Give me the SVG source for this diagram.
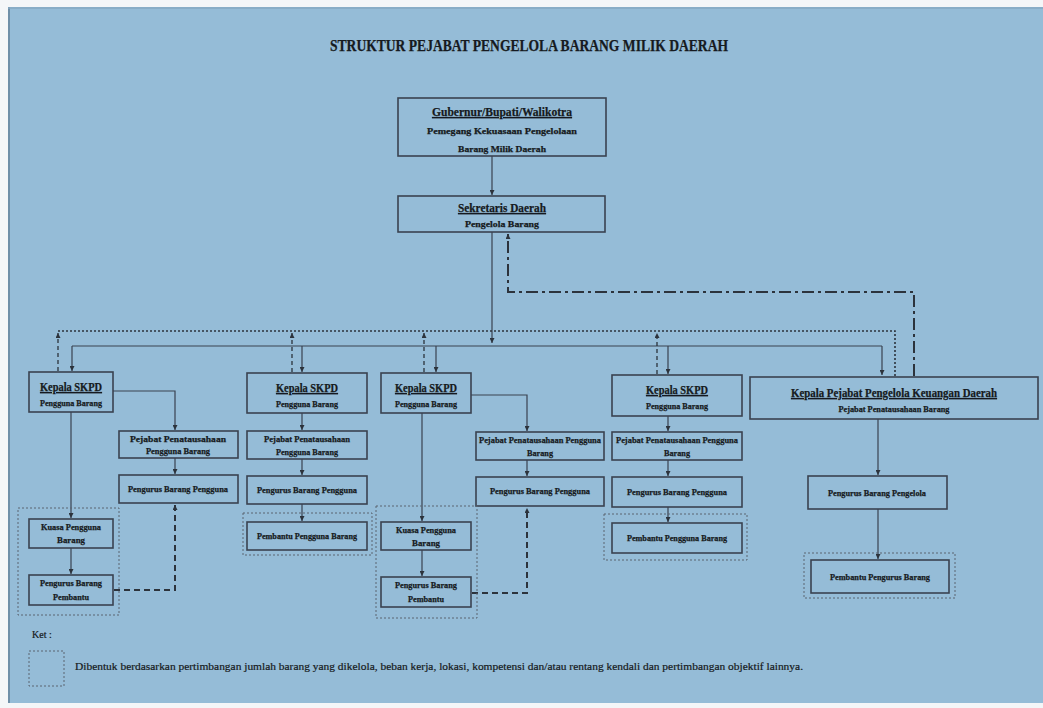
<svg xmlns="http://www.w3.org/2000/svg" width="1043" height="708" viewBox="0 0 1043 708">
  <defs>
    <style>
      .page { fill: #95bcd7; }
      .box { fill: none; stroke: #3a4250; stroke-width: 1.6; }
      .grp { fill: none; stroke: #5a6470; stroke-width: 1; stroke-dasharray: 2 2; }
      .t { font-family: "Liberation Serif", "DejaVu Serif", serif; font-weight: bold; fill: #161a20; stroke: #161a20; stroke-width: 0.25; text-anchor: middle; }
      .h { font-size: 12px; text-decoration: underline; }
      .s { font-size: 9px; }
      .solid { fill: none; stroke: #3a4250; stroke-width: 1.2; }
      .dots { fill: none; stroke: #2c333c; stroke-width: 1.6; stroke-dasharray: 2 2; }
      .riser { fill: none; stroke: #2c333c; stroke-width: 1.3; stroke-dasharray: 4 3; }
      .thick { fill: none; stroke: #2c333c; stroke-width: 2; stroke-dasharray: 6 4; }
      .dashdot { fill: none; stroke: #2c333c; stroke-width: 2; stroke-dasharray: 12 4 3 4; }
      .note { font-family: "Liberation Serif", "DejaVu Serif", serif; fill: #161a20; stroke: #161a20; stroke-width: 0.2; }
    </style>
    <marker id="arr" viewBox="0 0 6 6" refX="6" refY="3" markerWidth="5" markerHeight="5" orient="auto" markerUnits="userSpaceOnUse">
      <path d="M0,0 L6,3 L0,6 z" fill="#2c333c"/>
    </marker>
  </defs>

  <!-- sheet -->
  <rect x="0" y="0" width="1043" height="708" fill="#f4f6f8"/>
  <rect class="page" x="8" y="7" width="1035" height="696"/>
  <line x1="9" y1="7" x2="9" y2="703" stroke="#6f8fa8" stroke-width="2"/>
  <line x1="8" y1="8" x2="1043" y2="8" stroke="#86a9c2" stroke-width="1.5"/>

  <text class="t" x="529" y="51" font-size="16" stroke-width="0.5" textLength="398" lengthAdjust="spacingAndGlyphs">STRUKTUR PEJABAT PENGELOLA BARANG MILIK DAERAH</text>

  <!-- connectors -->
  <g id="connectors">
    <line class="solid" x1="492" y1="156" x2="492" y2="195" marker-end="url(#arr)"/>
    <line class="solid" x1="492" y1="232" x2="492" y2="343" marker-end="url(#arr)"/>
    <!-- main distribution bus -->
    <line class="solid" x1="72" y1="346" x2="882" y2="346"/>
    <line class="solid" x1="72" y1="346" x2="72" y2="371" marker-end="url(#arr)"/>
    <line class="solid" x1="302" y1="346" x2="302" y2="372" marker-end="url(#arr)"/>
    <line class="solid" x1="436" y1="346" x2="436" y2="372" marker-end="url(#arr)"/>
    <line class="solid" x1="668" y1="346" x2="668" y2="374" marker-end="url(#arr)"/>
    <line class="solid" x1="882" y1="346" x2="882" y2="375" marker-end="url(#arr)"/>
    <!-- coordination bus -->
    <path class="dots" d="M58,331 H895 V376"/>
    <line class="riser" x1="58" y1="371" x2="58" y2="333" marker-end="url(#arr)"/>
    <line class="riser" x1="292" y1="372" x2="292" y2="333" marker-end="url(#arr)"/>
    <line class="riser" x1="424" y1="372" x2="424" y2="333" marker-end="url(#arr)"/>
    <line class="riser" x1="657" y1="374" x2="657" y2="333" marker-end="url(#arr)"/>
    <!-- reporting line to Sekda -->
    <path class="dashdot" d="M914,376 V292 H508 V234" marker-end="url(#arr)"/>

    <!-- unit 1 -->
    <path class="solid" d="M113,391 H175 V430" marker-end="url(#arr)"/>
    <line class="solid" x1="175" y1="458" x2="175" y2="474" marker-end="url(#arr)"/>
    <line class="solid" x1="71" y1="412" x2="71" y2="518" marker-end="url(#arr)"/>
    <line class="solid" x1="71" y1="548" x2="71" y2="574" marker-end="url(#arr)"/>
    <path class="thick" d="M114,590 H175 V505" marker-end="url(#arr)"/>

    <!-- unit 2 -->
    <line class="solid" x1="302" y1="413" x2="302" y2="430" marker-end="url(#arr)"/>
    <line class="solid" x1="302" y1="459" x2="302" y2="475" marker-end="url(#arr)"/>
    <line class="solid" x1="302" y1="504" x2="302" y2="521" marker-end="url(#arr)"/>

    <!-- unit 3 -->
    <path class="solid" d="M471,395 H527 V431" marker-end="url(#arr)"/>
    <line class="solid" x1="527" y1="460" x2="527" y2="476" marker-end="url(#arr)"/>
    <line class="solid" x1="422" y1="413" x2="422" y2="521" marker-end="url(#arr)"/>
    <line class="solid" x1="422" y1="550" x2="422" y2="576" marker-end="url(#arr)"/>
    <path class="thick" d="M472,593 H527 V508" marker-end="url(#arr)"/>

    <!-- unit 4 -->
    <line class="solid" x1="668" y1="416" x2="668" y2="431" marker-end="url(#arr)"/>
    <line class="solid" x1="668" y1="460" x2="668" y2="476" marker-end="url(#arr)"/>
    <line class="solid" x1="668" y1="507" x2="668" y2="522" marker-end="url(#arr)"/>

    <!-- finance unit -->
    <line class="solid" x1="878" y1="419" x2="878" y2="475" marker-end="url(#arr)"/>
    <line class="solid" x1="878" y1="509" x2="878" y2="559" marker-end="url(#arr)"/>
  </g>

  <!-- head of region -->
  <g id="gubernur">
    <rect class="box" x="398" y="98" width="208" height="58"/>
    <text class="t h" x="502" y="116" font-size="11" textLength="140" lengthAdjust="spacingAndGlyphs">Gubernur/Bupati/Walikotra</text>
    <text class="t s" x="502" y="134" textLength="150" lengthAdjust="spacingAndGlyphs">Pemegang Kekuasaan Pengelolaan</text>
    <text class="t s" x="502" y="152" textLength="88" lengthAdjust="spacingAndGlyphs">Barang Milik Daerah</text>
  </g>

  <g id="sekda">
    <rect class="box" x="398" y="196" width="207" height="36"/>
    <text class="t h" x="502" y="212" font-size="11" textLength="88" lengthAdjust="spacingAndGlyphs">Sekretaris Daerah</text>
    <text class="t s" x="502" y="227" textLength="74" lengthAdjust="spacingAndGlyphs">Pengelola Barang</text>
  </g>

  <!-- unit 1 -->
  <g id="skpd1">
    <rect class="box" x="29" y="372" width="84" height="40"/>
    <text class="t h" x="71" y="391" textLength="62" lengthAdjust="spacingAndGlyphs">Kepala SKPD</text>
    <text class="t s" x="71" y="406" textLength="62" lengthAdjust="spacingAndGlyphs">Pengguna Barang</text>
  </g>
  <g id="ppk1">
    <rect class="box" x="119" y="431" width="119" height="27"/>
    <text class="t s" x="178" y="442" font-size="8.5" textLength="96" lengthAdjust="spacingAndGlyphs">Pejabat Penatausahaan</text>
    <text class="t s" x="178" y="454" font-size="8.5" textLength="64" lengthAdjust="spacingAndGlyphs">Pengguna Barang</text>
  </g>
  <g id="pengurus1">
    <rect class="box" x="119" y="475" width="119" height="28"/>
    <text class="t s" x="178" y="492" font-size="8.5" textLength="100" lengthAdjust="spacingAndGlyphs">Pengurus Barang Pengguna</text>
  </g>
  <g id="grup1">
    <rect class="grp" x="18" y="508" width="101" height="107"/>
  </g>
  <g id="kuasa1">
    <rect class="box" x="29" y="519" width="84" height="29"/>
    <text class="t s" x="71" y="530" font-size="8.5" textLength="60" lengthAdjust="spacingAndGlyphs">Kuasa Pengguna</text>
    <text class="t s" x="71" y="543" font-size="8.5" textLength="28" lengthAdjust="spacingAndGlyphs">Barang</text>
  </g>
  <g id="pembantu1">
    <rect class="box" x="29" y="575" width="84" height="30"/>
    <text class="t s" x="71" y="586" font-size="8.5" textLength="62" lengthAdjust="spacingAndGlyphs">Pengurus Barang</text>
    <text class="t s" x="71" y="600" font-size="8.5" textLength="36" lengthAdjust="spacingAndGlyphs">Pembantu</text>
  </g>

  <!-- unit 2 -->
  <g id="skpd2">
    <rect class="box" x="247" y="373" width="120" height="40"/>
    <text class="t h" x="307" y="392" textLength="62" lengthAdjust="spacingAndGlyphs">Kepala SKPD</text>
    <text class="t s" x="307" y="407" textLength="62" lengthAdjust="spacingAndGlyphs">Pengguna Barang</text>
  </g>
  <g id="ppk2">
    <rect class="box" x="247" y="431" width="120" height="28"/>
    <text class="t s" x="307" y="442" font-size="8.5" textLength="86" lengthAdjust="spacingAndGlyphs">Pejabat Penatausahaan</text>
    <text class="t s" x="307" y="455" font-size="8.5" textLength="62" lengthAdjust="spacingAndGlyphs">Pengguna Barang</text>
  </g>
  <g id="pengurus2">
    <rect class="box" x="247" y="476" width="120" height="28"/>
    <text class="t s" x="307" y="493" font-size="8.5" textLength="100" lengthAdjust="spacingAndGlyphs">Pengurus Barang Pengguna</text>
  </g>
  <g id="grup2">
    <rect class="grp" x="243" y="513" width="129" height="42"/>
  </g>
  <g id="pembantu2">
    <rect class="box" x="247" y="522" width="120" height="28"/>
    <text class="t s" x="307" y="539" font-size="8.5" textLength="100" lengthAdjust="spacingAndGlyphs">Pembantu Pengguna Barang</text>
  </g>

  <!-- unit 3 -->
  <g id="skpd3">
    <rect class="box" x="381" y="373" width="90" height="40"/>
    <text class="t h" x="426" y="392" textLength="62" lengthAdjust="spacingAndGlyphs">Kepala SKPD</text>
    <text class="t s" x="426" y="407" textLength="62" lengthAdjust="spacingAndGlyphs">Pengguna Barang</text>
  </g>
  <g id="ppk3">
    <rect class="box" x="476" y="432" width="128" height="28"/>
    <text class="t s" x="540" y="443" font-size="8.5" textLength="122" lengthAdjust="spacingAndGlyphs">Pejabat Penatausahaan Pengguna</text>
    <text class="t s" x="540" y="456" font-size="8.5" textLength="26" lengthAdjust="spacingAndGlyphs">Barang</text>
  </g>
  <g id="pengurus3">
    <rect class="box" x="476" y="477" width="128" height="29"/>
    <text class="t s" x="540" y="494" font-size="8.5" textLength="100" lengthAdjust="spacingAndGlyphs">Pengurus Barang Pengguna</text>
  </g>
  <g id="grup3">
    <rect class="grp" x="376" y="506" width="101" height="112"/>
  </g>
  <g id="kuasa3">
    <rect class="box" x="381" y="522" width="90" height="28"/>
    <text class="t s" x="426" y="533" font-size="8.5" textLength="60" lengthAdjust="spacingAndGlyphs">Kuasa Pengguna</text>
    <text class="t s" x="426" y="546" font-size="8.5" textLength="28" lengthAdjust="spacingAndGlyphs">Barang</text>
  </g>
  <g id="pembantu3">
    <rect class="box" x="381" y="577" width="90" height="30"/>
    <text class="t s" x="426" y="588" font-size="8.5" textLength="62" lengthAdjust="spacingAndGlyphs">Pengurus Barang</text>
    <text class="t s" x="426" y="602" font-size="8.5" textLength="36" lengthAdjust="spacingAndGlyphs">Pembantu</text>
  </g>

  <!-- unit 4 -->
  <g id="skpd4">
    <rect class="box" x="612" y="375" width="130" height="41"/>
    <text class="t h" x="677" y="394" textLength="62" lengthAdjust="spacingAndGlyphs">Kepala SKPD</text>
    <text class="t s" x="677" y="409" textLength="62" lengthAdjust="spacingAndGlyphs">Pengguna Barang</text>
  </g>
  <g id="ppk4">
    <rect class="box" x="612" y="432" width="130" height="28"/>
    <text class="t s" x="677" y="443" font-size="8.5" textLength="122" lengthAdjust="spacingAndGlyphs">Pejabat Penatausahaan Pengguna</text>
    <text class="t s" x="677" y="456" font-size="8.5" textLength="26" lengthAdjust="spacingAndGlyphs">Barang</text>
  </g>
  <g id="pengurus4">
    <rect class="box" x="612" y="477" width="130" height="30"/>
    <text class="t s" x="677" y="495" font-size="8.5" textLength="100" lengthAdjust="spacingAndGlyphs">Pengurus Barang Pengguna</text>
  </g>
  <g id="grup4">
    <rect class="grp" x="604" y="514" width="143" height="46"/>
  </g>
  <g id="pembantu4">
    <rect class="box" x="612" y="523" width="130" height="30"/>
    <text class="t s" x="677" y="541" font-size="8.5" textLength="100" lengthAdjust="spacingAndGlyphs">Pembantu Pengguna Barang</text>
  </g>

  <!-- finance unit -->
  <g id="kppkd">
    <rect class="box" x="750" y="377" width="288" height="42"/>
    <text class="t h" x="894" y="397" textLength="206" lengthAdjust="spacingAndGlyphs">Kepala Pejabat Pengelola Keuangan Daerah</text>
    <text class="t s" x="894" y="412" textLength="111" lengthAdjust="spacingAndGlyphs">Pejabat Penatausahaan Barang</text>
  </g>
  <g id="pengurus-pengelola">
    <rect class="box" x="808" y="476" width="139" height="33"/>
    <text class="t s" x="877" y="496" font-size="8.5" textLength="98" lengthAdjust="spacingAndGlyphs">Pengurus Barang Pengelola</text>
  </g>
  <g id="grup5">
    <rect class="grp" x="804" y="553" width="151" height="45"/>
  </g>
  <g id="pembantu-pengurus">
    <rect class="box" x="811" y="560" width="138" height="33"/>
    <text class="t s" x="880" y="580" font-size="8.5" textLength="100" lengthAdjust="spacingAndGlyphs">Pembantu Pengurus Barang</text>
  </g>

  <!-- legend -->
  <g id="legend">
    <text class="note" x="32" y="638" font-size="10">Ket :</text>
    <rect class="grp" x="29" y="651" width="35" height="35"/>
    <text class="note" x="75" y="670" font-size="11" textLength="728" lengthAdjust="spacingAndGlyphs">Dibentuk berdasarkan pertimbangan jumlah barang yang dikelola, beban kerja, lokasi, kompetensi dan/atau rentang kendali dan pertimbangan objektif lainnya.</text>
  </g>
</svg>
